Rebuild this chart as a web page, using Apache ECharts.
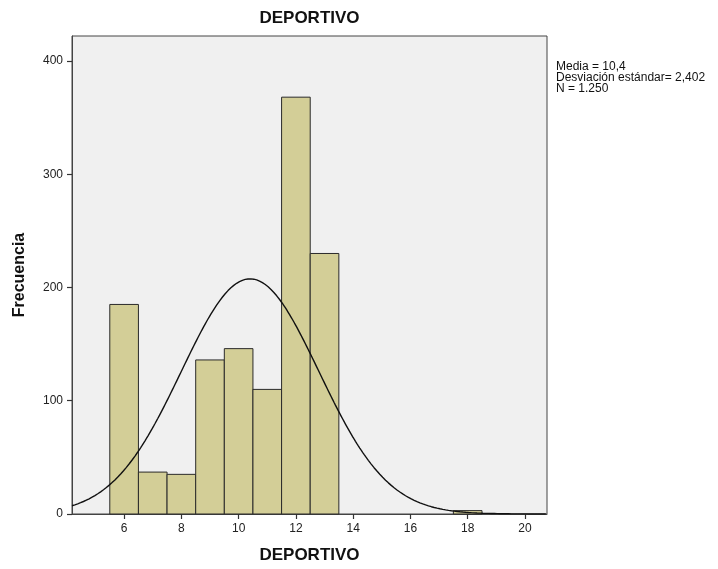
<!DOCTYPE html>
<html>
<head>
<meta charset="utf-8">
<script src="https://cdn.jsdelivr.net/npm/echarts@6/dist/echarts.min.js"></script>
<style>
html,body{margin:0;padding:0;background:#fff;}
#chart{width:718px;height:569px;}
</style>
</head>
<body>
<div id="chart"></div>
<script>
// ---- data ----
const titleText = 'DEPORTIVO';
const xAxisName = 'DEPORTIVO';
const yAxisName = 'Frecuencia';
const binCenters = [6, 7, 8, 9, 10, 11, 12, 13, 18];
const binCounts  = [185, 37, 35, 136, 146, 110, 368, 230, 3];
const xTickLabels = [6, 8, 10, 12, 14, 16, 18, 20];
const yTickLabels = [0, 100, 200, 300, 400];
const fitMean = 10.4;
const fitSd = 2.402;
const fitN = 1250;
const statsLines = ['Media = 10,4', 'Desviación estándar= 2,402', 'N = 1.250'];

// axis ranges as seen in the picture
const xMin = 4.18, xMax = 20.77;
const yMin = 0, yMax = 422;

// fitted normal curve defined by the stated mean, sd and N (bin width 1)
const curve = [];
for (let x = xMin; x <= xMax + 1e-9; x += 0.05) {
  const z = (x - fitMean) / fitSd;
  curve.push([x, fitN * 1 / (fitSd * Math.sqrt(2 * Math.PI)) * Math.exp(-0.5 * z * z)]);
}

const FONT = 'Liberation Sans, Arial, sans-serif';
const chart = echarts.init(document.getElementById('chart'), null, {renderer: 'canvas'});
chart.setOption({
  animation: false,
  backgroundColor: '#ffffff',
  grid: {
    left: 72, right: 171, top: 36, bottom: 55,
    show: true, backgroundColor: '#f0f0f0', borderColor: '#444', borderWidth: 1
  },
  xAxis: {
    type: 'value', min: xMin, max: xMax,
    name: xAxisName, nameLocation: 'middle', nameGap: 33,
    nameTextStyle: {fontFamily: FONT, fontWeight: 'bold', fontSize: 17, color: '#111'},
    axisLine: {show: true, onZero: false, lineStyle: {color: '#444', width: 1}},
    axisTick: {show: true, length: 5, customValues: xTickLabels, lineStyle: {color: '#333', width: 1.2}},
    axisLabel: {customValues: xTickLabels, margin: 9, fontFamily: FONT, fontSize: 12, color: '#222'},
    splitLine: {show: false}
  },
  yAxis: {
    type: 'value', min: yMin, max: yMax,
    name: yAxisName, nameLocation: 'middle', nameGap: 44, nameRotate: 90,
    nameTextStyle: {fontFamily: FONT, fontWeight: 'bold', fontSize: 16, color: '#111'},
    axisLine: {show: true, lineStyle: {color: '#444', width: 1}},
    axisTick: {show: true, length: 5, customValues: yTickLabels, lineStyle: {color: '#333', width: 1.2}},
    axisLabel: {customValues: yTickLabels, margin: 9, fontFamily: FONT, fontSize: 12, color: '#222'},
    splitLine: {show: false}
  },
  graphic: [
    {type: 'text', x: 309.5, y: 18, z: 10,
     style: {text: titleText, align: 'center', verticalAlign: 'middle',
             font: 'bold 17px ' + FONT, fill: '#111'}},
    {type: 'text', x: 556, y: 61, z: 10,
     style: {text: statsLines.join('\n'), align: 'left', verticalAlign: 'top',
             font: '12px ' + FONT, lineHeight: 11, fill: '#111'}}
  ],
  series: [
    {
      type: 'custom',
      data: binCenters.map((c, i) => [c, binCounts[i]]),
      encode: {x: 0, y: 1},
      z: 2,
      renderItem: function (params, api) {
        const c = api.value(0), v = api.value(1);
        const p0 = api.coord([c - 0.5, 0]);
        const p1 = api.coord([c + 0.5, v]);
        return {
          type: 'rect',
          shape: {x: p0[0], y: p1[1], width: p1[0] - p0[0], height: p0[1] - p1[1]},
          style: {fill: '#d3ce97', stroke: '#2a2a2a', lineWidth: 1}
        };
      }
    },
    {
      type: 'line', data: curve, showSymbol: false, smooth: false, z: 5,
      clip: true,
      lineStyle: {color: '#111', width: 1.4}
    }
  ]
});
</script>
</body>
</html>
